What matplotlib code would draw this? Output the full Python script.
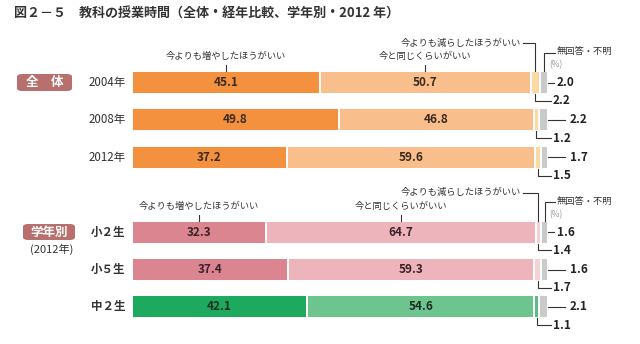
import matplotlib
matplotlib.use("Agg")
import matplotlib.pyplot as plt
from matplotlib.patches import FancyBboxPatch

plt.rcParams['font.family'] = ['Noto Sans CJK JP', 'DejaVu Sans']

# ---- data ----
rows = ['2004年', '2008年', '2012年', '小２生', '小５生', '中２生']
increase = [45.1, 49.8, 37.2, 32.3, 37.4, 42.1]
same = [50.7, 46.8, 59.6, 64.7, 59.3, 54.6]
decrease = [2.2, 1.2, 1.5, 1.4, 1.7, 1.1]
no_answer = [2.0, 2.2, 1.7, 1.6, 1.6, 2.1]
series_names = ['今よりも増やしたほうがいい', '今と同じくらいがいい',
                '今よりも減らしたほうがいい', '無回答・不明']
group_labels = ['全　体', '学年別']
title = '図２－５　教科の授業時間（全体・経年比較、学年別・2012 年）'

# ---- styles ----
ypos = [0, 1, 2, 4, 5, 6]
palettes = {
    'orange': ['#F3913F', '#F8BE8C', '#FBD9A2', '#CACACA'],
    'pink': ['#DB8590', '#EDB4BB', '#F3D1D4', '#CACACA'],
    'green': ['#1DAA5E', '#6EC48F', '#5CBC82', '#CACACA'],
}
row_pal = ['orange', 'orange', 'orange', 'pink', 'pink', 'green']
txt_col = {'orange': '#3b2a1e', 'pink': '#3b2228', 'green': '#1c2e22'}
H = 0.62
LC = '#333333'
LW = 0.8

fig = plt.figure(figsize=(6.4, 3.44), dpi=100)
fig.patch.set_facecolor('white')
ax = fig.add_axes([132 / 640, 0, 416 / 640, 1])
ax.set_xlim(0, 100)
ax.set_ylim(6.992, -2.206)
ax.axis('off')

for i, y in enumerate(ypos):
    vals = [increase[i], same[i], decrease[i], no_answer[i]]
    pal = palettes[row_pal[i]]
    left = 0
    for j, v in enumerate(vals):
        ax.barh(y, v, left=left, height=H, color=pal[j], edgecolor='white',
                linewidth=1.4)
        if j < 2:
            ax.text(left + v / 2, y, f'{v:.1f}', ha='center', va='center',
                    fontsize=8.5, fontweight='bold', color=txt_col[row_pal[i]])
        left += v
    # row label
    ax.text(-1.5, y, rows[i], ha='right', va='center', fontsize=8.3,
            color='#333333', fontweight='bold' if i >= 3 else 'normal',
            clip_on=False)

    # decrease label (L-shaped leader below)
    dc = increase[i] + same[i] + decrease[i] / 2
    ly = y + 0.49
    ax.plot([dc, dc, 100.7], [y + H / 2, ly, ly], color=LC, lw=LW,
            clip_on=False, solid_joinstyle='miter')
    ax.text(101.1, ly, f'{decrease[i]:.1f}', ha='left', va='center',
            fontsize=8.5, fontweight='bold', color='#222222', clip_on=False)

    # no-answer label (horizontal leader)
    first = i in (0, 3)
    end = 101.4 if first else 104.1
    tx = 102.1 if first else 105.2
    ax.plot([100.1, end], [y, y], color=LC, lw=LW, clip_on=False)
    ax.text(tx, y, f'{no_answer[i]:.1f}', ha='left', va='center',
            fontsize=8.5, fontweight='bold', color='#222222', clip_on=False)

# header annotations for top row of each group
for i in (0, 3):
    y = ypos[i]
    top = y - H / 2
    c1 = increase[i] / 2
    c2 = increase[i] + same[i] / 2
    c3 = increase[i] + same[i] + decrease[i] / 2
    c4 = increase[i] + same[i] + decrease[i] + no_answer[i] / 2
    for c, name in ((c1, series_names[0]), (c2, series_names[1])):
        ax.plot([c, c], [y - 0.47, top], color=LC, lw=LW, clip_on=False)
        ax.text(c, y - 0.7, name, ha='center', va='center', fontsize=6.7,
                color='#333333', clip_on=False)
    # decrease header
    ax.plot([94.0, c3, c3], [y - 1.05, y - 1.05, top], color=LC, lw=LW,
            clip_on=False, solid_joinstyle='miter')
    ax.text(93.4, y - 1.05, series_names[2], ha='right', va='center',
            fontsize=6.7, color='#333333', clip_on=False)
    # no answer header
    ax.plot([c4, c4, 101.8], [top, y - 0.8, y - 0.8], color=LC, lw=LW,
            clip_on=False, solid_joinstyle='miter')
    ax.text(102.1, y - 0.8, series_names[3], ha='left', va='center',
            fontsize=6.7, color='#333333', clip_on=False)
    ax.text(100.3, y - 0.47, '(%)', ha='left', va='center', fontsize=6,
            color='#999999', clip_on=False)

# group boxes
def group_box(xc, yc, w, h, label):
    x0 = xc - w / 2
    y0 = yc - h / 2
    box = FancyBboxPatch((x0 / 640, 1 - (y0 + h) / 344), w / 640, h / 344,
                         boxstyle='round,pad=0,rounding_size=0.008',
                         transform=fig.transFigure, facecolor='#B8706E',
                         edgecolor='none')
    fig.patches.append(box)
    fig.text(xc / 640, 1 - yc / 344, label, ha='center', va='center',
             color='white', fontsize=9, fontweight='bold')

group_box(44.5, 82.5, 55, 17, group_labels[0])
group_box(49, 232, 52, 16, group_labels[1])
fig.text(51.5 / 640, 1 - 249.5 / 344, '(2012年)', ha='center', va='center',
         fontsize=8, color='#333333')

# title
fig.text(14 / 640, 1 - 14 / 344, title, ha='left', va='center', fontsize=9.4,
         color='#333333', fontweight='bold')

fig.savefig('out.png', dpi=100, facecolor='white')
